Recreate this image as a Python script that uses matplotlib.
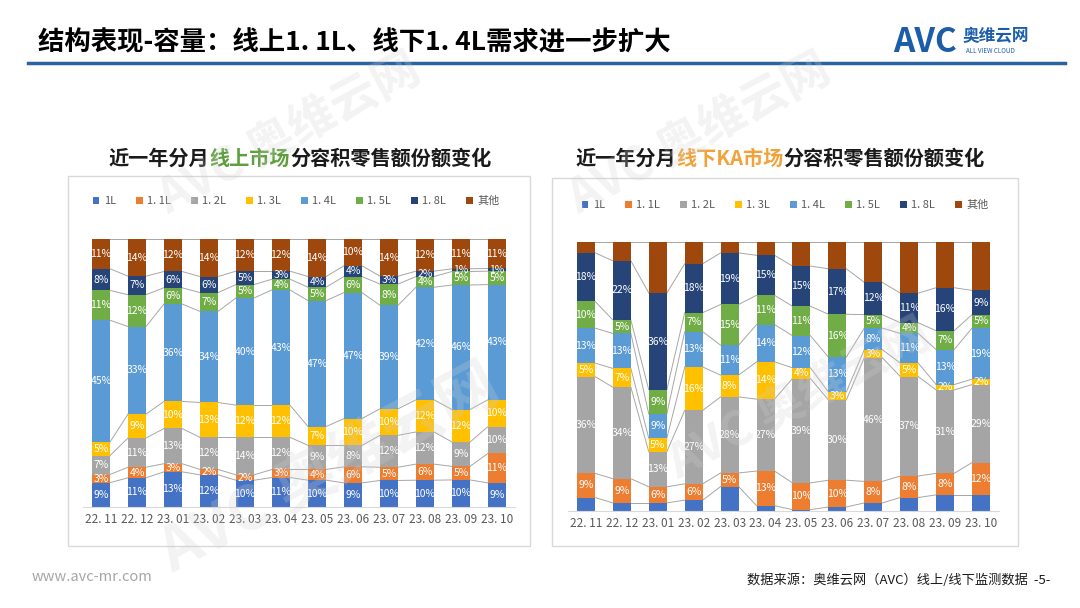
import numpy as np
import matplotlib.pyplot as plt
from matplotlib.patches import Rectangle, Patch
from matplotlib.lines import Line2D

plt.rcParams['font.family'] = ['Noto Sans CJK SC', 'DejaVu Sans']

W, H = 1080, 608

months = ["22. 11", "22. 12", "23. 01", "23. 02", "23. 03", "23. 04",
          "23. 05", "23. 06", "23. 07", "23. 08", "23. 09", "23. 10"]
sizes = ["1L", "1. 1L", "1. 2L", "1. 3L", "1. 4L", "1. 5L", "1. 8L", "其他"]
colors = ["#4472C4", "#ED7D31", "#A5A5A5", "#FFC000",
          "#5B9BD5", "#70AD47", "#264478", "#9E480E"]

# online market (%), bottom -> top
online_1l = [9, 11, 13, 12, 10, 11, 10, 9, 10, 10, 10, 9]
online_11l = [3, 4, 3, 2, 2, 3, 4, 6, 5, 6, 5, 11]
online_12l = [7, 11, 13, 12, 14, 12, 9, 8, 12, 12, 9, 10]
online_13l = [5, 9, 10, 13, 12, 12, 7, 10, 10, 12, 12, 10]
online_14l = [45, 33, 36, 34, 40, 43, 47, 47, 39, 42, 46, 43]
online_15l = [11, 12, 6, 7, 5, 4, 5, 6, 8, 4, 5, 5]
online_18l = [8, 7, 6, 6, 5, 3, 4, 4, 3, 2, 1, 1]
online_other = [11, 14, 12, 14, 12, 12, 14, 10, 14, 12, 11, 11]

# offline KA market (%), 1L and 其他 are not labelled in the source
offline_1l = [5, 3, 3, 4, 9, 2, 0.5, 1.5, 3, 5, 6, 6]
offline_11l = [9, 9, 6, 6, 5, 13, 10, 10, 8, 8, 8, 12]
offline_12l = [36, 34, 13, 27, 28, 27, 39, 30, 46, 37, 31, 29]
offline_13l = [5, 7, 5, 16, 8, 14, 4, 3, 3, 5, 2, 2]
offline_14l = [13, 13, 9, 13, 11, 14, 12, 13, 8, 11, 13, 19]
offline_15l = [10, 5, 9, 7, 15, 11, 11, 16, 5, 4, 7, 5]
offline_18l = [18, 22, 36, 18, 19, 15, 15, 17, 12, 11, 16, 9]
offline_other = [4, 7, 19, 8, 4, 5, 9, 10, 15, 19, 17, 18]

online = [online_1l, online_11l, online_12l, online_13l,
          online_14l, online_15l, online_18l, online_other]
offline = [offline_1l, offline_11l, offline_12l, offline_13l,
           offline_14l, offline_15l, offline_18l, offline_other]


def fy(y):
    return 1 - y / H


def make_axes(fig, x0, x1, ytop, ybot):
    return fig.add_axes([x0 / W, 1 - ybot / H, (x1 - x0) / W, (ybot - ytop) / H])


def draw_stacked(ax, series, show_label):
    raw = np.array(series, dtype=float)
    data = raw / raw.sum(axis=0) * 100
    x = np.arange(len(months))
    bottom = np.zeros(len(months))
    for k in range(len(series)):
        ax.bar(x, data[k], 0.5, bottom=bottom, color=colors[k], zorder=2)
        if show_label[k]:
            for i in range(len(months)):
                ax.text(x[i], bottom[i] + data[k][i] / 2, f"{raw[k][i]:.0f}%",
                        ha="center", va="center", color="white", fontsize=7.5, zorder=3)
        bottom = bottom + data[k]
        # series lines between bars
        for i in range(len(months) - 1):
            ax.plot([x[i] + 0.25, x[i + 1] - 0.25], [bottom[i], bottom[i + 1]],
                    color="#A6A6A6", lw=0.7, zorder=1)
    ax.set_xlim(-0.5, len(months) - 0.5)
    ax.set_ylim(0, 100)
    for s in ["top", "left", "right"]:
        ax.spines[s].set_visible(False)
    ax.spines["bottom"].set_color("#D9D9D9")
    ax.set_yticks([])
    ax.set_xticks(x)
    ax.set_xticklabels(months, fontsize=8.5, color="#595959")
    ax.tick_params(axis="x", length=0, pad=4)
    ax.patch.set_alpha(0)


def colored_text(fig, cx, cy, parts, size):
    renderer = fig.canvas.get_renderer()
    items = []
    for s, c in parts:
        t = fig.text(0, fy(cy), s, color=c, fontsize=size, weight="bold",
                     ha="left", va="center")
        items.append((t, t.get_window_extent(renderer).width))
    total = sum(w for _, w in items)
    x0 = cx - total / 2
    for t, w in items:
        t.set_x(x0 / W)
        x0 += w


fig = plt.figure(figsize=(W / 100, H / 100), dpi=100)
fig.patch.set_facecolor("white")

# header
fig.text(38 / W, fy(43), "结构表现-容量：线上1. 1L、线下1. 4L需求进一步扩大",
         fontsize=19, weight="bold", color="black", va="center")
fig.add_artist(Line2D([28 / W, 1065 / W], [fy(63), fy(63)], color="#2A64A0", lw=2.5))
fig.text(893 / W, fy(42), "AVC", fontsize=24, weight="bold", style="italic",
         color="#1C5DAA", va="center")
fig.text(963 / W, fy(36), "奥维云网", fontsize=12, weight="bold", color="#1C5DAA", va="center")
fig.text(966 / W, fy(51), "ALL VIEW CLOUD", fontsize=4.5, color="#1C5DAA", va="center")

# panels (behind the axes)
fig.add_artist(Rectangle((68 / W, fy(546)), (530 - 68) / W, (546 - 176) / H,
                         transform=fig.transFigure, facecolor="white", edgecolor="#D9D9D9",
                         lw=1, zorder=-5))
fig.add_artist(Rectangle((552 / W, fy(546)), (1018 - 552) / W, (546 - 178) / H,
                         transform=fig.transFigure, facecolor="white", edgecolor="#D9D9D9",
                         lw=1, zorder=-5))

colored_text(fig, 300, 158, [("近一年分月", "#1A1A1A"), ("线上市场", "#5E9E3C"),
                             ("分容积零售额份额变化", "#1A1A1A")], 14.5)
colored_text(fig, 780, 158, [("近一年分月", "#1A1A1A"), ("线下KA市场", "#F2A23A"),
                             ("分容积零售额份额变化", "#1A1A1A")], 14.5)

ax1 = make_axes(fig, 83, 515, 239, 507)
draw_stacked(ax1, online, [True] * 8)
ax2 = make_axes(fig, 568, 999, 242, 511)
draw_stacked(ax2, offline, [False, True, True, True, True, True, True, False])

handles = [Patch(facecolor=c) for c in colors]
for cx, cy in [(296, 201), (785, 205)]:
    fig.legend(handles, sizes, loc="center", bbox_to_anchor=(cx / W, fy(cy)), ncol=8,
               frameon=False, fontsize=8, handlelength=0.6, handleheight=0.6,
               handletextpad=0.4, columnspacing=1.8, labelcolor="#595959")

# watermarks
for x, y, s in [(290, 135, 34), (700, 135, 34), (330, 470, 44), (800, 400, 34)]:
    fig.text(x / W, fy(y), "AVC 奥维云网", rotation=28, fontsize=s, weight="bold",
             color="#D0D0D0", alpha=0.25, ha="center", va="center", zorder=10)

# footer
fig.text(32 / W, fy(577), "www.avc-mr.com", fontsize=10.5, color="#A6A6A6", va="center")
fig.text(1050 / W, fy(580), "数据来源：奥维云网（AVC）线上/线下监测数据  -5-",
         fontsize=9.5, color="#1A1A1A", ha="right", va="center")

fig.savefig("out.png", dpi=100)
